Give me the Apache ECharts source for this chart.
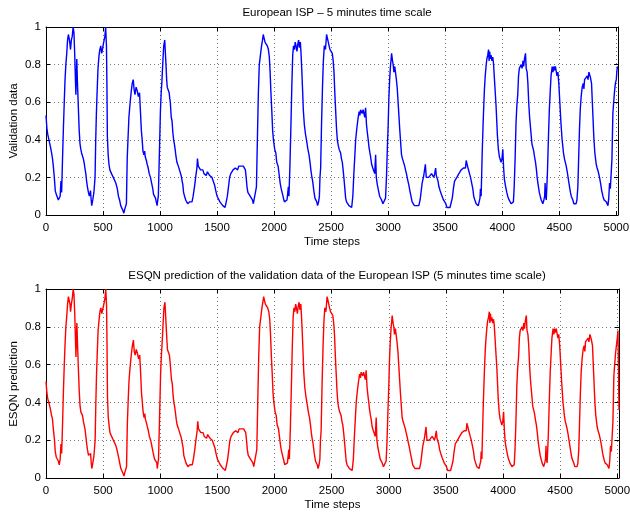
<!DOCTYPE html>
<html><head><meta charset="utf-8">
<script src="https://cdn.jsdelivr.net/npm/echarts@6/dist/echarts.min.js"></script>
<style>html,body{margin:0;padding:0;background:#fff}#c{width:630px;height:513px}</style>
</head><body><div id="c"></div>
<script>
const topTitle = "European ISP \u2013 5 minutes time scale";
const bottomTitle = "ESQN prediction of the validation data of the European ISP (5 minutes time scale)";
const topYName = "Validation data";
const bottomYName = "ESQN prediction";
const xTicks = [0,500,1000,1500,2000,2500,3000,3500,4000,4500,5000];
const yTicks = [0,0.2,0.4,0.6,0.8,1];
const xMax = 5015;

const validation = [[0,.53],[8,.46],[15,.43],[29,.39],[40,.36],[49,.33],[57,.30],[64,.26],[73,.20],[81,.13],[90,.11],[100,.10],[108,.08],[116,.07],[124,.10],[131,.18],[137,.12],[145,.30],[152,.45],[160,.60],[167,.72],[174,.80],[182,.86],[189,.93],[196,.96],[203,.94],[210,.91],[215,.88],[222,.93],[230,.95],[238,1.0],[245,.97],[252,.85],[258,.72],[262,.64],[270,.83],[276,.70],[282,.60],[291,.45],[298,.38],[305,.35],[312,.33],[320,.33],[327,.30],[334,.28],[341,.25],[349,.22],[356,.18],[363,.15],[372,.12],[380,.10],[390,.13],[396,.08],[401,.05],[410,.08],[420,.12],[430,.20],[436,.40],[441,.52],[445,.60],[451,.70],[456,.78],[465,.85],[472,.88],[480,.90],[488,.86],[495,.88],[503,.91],[510,.92],[516,.95],[523,1.0],[530,.90],[534,.70],[538,.42],[545,.32],[552,.27],[560,.24],[567,.25],[574,.22],[580,.21],[590,.20],[600,.19],[612,.17],[625,.14],[635,.10],[645,.08],[655,.05],[663,.04],[670,.03],[677,.02],[683,.01],[690,.03],[700,.02],[705,.06],[712,.30],[720,.42],[727,.52],[735,.58],[741,.62],[748,.66],[756,.70],[765,.72],[772,.67],[780,.64],[790,.68],[800,.66],[810,.63],[820,.65],[828,.55],[836,.45],[843,.40],[850,.34],[858,.32],[865,.34],[870,.31],[880,.29],[887,.27],[896,.25],[905,.22],[916,.20],[926,.17],[936,.14],[943,.11],[950,.10],[960,.09],[970,.08],[974,.05],[980,.08],[985,.10],[993,.30],[1003,.55],[1010,.65],[1017,.72],[1025,.82],[1032,.90],[1041,.93],[1048,.92],[1052,.80],[1058,.72],[1063,.68],[1070,.67],[1080,.65],[1085,.62],[1090,.60],[1098,.52],[1105,.50],[1112,.44],[1119,.40],[1125,.38],[1132,.35],[1140,.31],[1148,.28],[1160,.26],[1170,.24],[1177,.24],[1185,.21],[1192,.20],[1200,.16],[1206,.12],[1215,.10],[1225,.08],[1235,.09],[1242,.06],[1250,.05],[1260,.07],[1270,.08],[1280,.07],[1290,.10],[1302,.15],[1312,.20],[1323,.25],[1328,.30],[1335,.26],[1345,.25],[1355,.24],[1365,.23],[1375,.24],[1385,.22],[1395,.23],[1405,.21],[1415,.23],[1425,.22],[1435,.21],[1445,.22],[1455,.20],[1468,.20],[1478,.16],[1488,.13],[1500,.10],[1510,.09],[1525,.07],[1540,.06],[1550,.05],[1562,.04],[1570,.04],[1580,.07],[1590,.10],[1600,.15],[1610,.20],[1620,.22],[1630,.23],[1640,.24],[1650,.23],[1660,.25],[1670,.24],[1680,.24],[1690,.26],[1700,.25],[1710,.26],[1720,.27],[1730,.26],[1740,.27],[1748,.24],[1755,.20],[1762,.15],[1770,.12],[1780,.11],[1790,.10],[1800,.09],[1810,.08],[1818,.06],[1825,.05],[1835,.07],[1845,.15],[1850,.30],[1855,.45],[1862,.65],[1870,.80],[1880,.85],[1890,.90],[1898,.93],[1905,.96],[1912,.94],[1920,.92],[1930,.93],[1940,.90],[1950,.88],[1958,.84],[1965,.76],[1972,.65],[1980,.55],[1987,.45],[1994,.40],[2005,.35],[2015,.33],[2023,.28],[2035,.26],[2045,.21],[2053,.17],[2062,.14],[2070,.12],[2082,.09],[2090,.07],[2096,.06],[2105,.06],[2113,.08],[2120,.07],[2125,.15],[2130,.10],[2138,.25],[2148,.49],[2155,.68],[2163,.85],[2170,.90],[2178,.88],[2185,.92],[2192,.90],[2200,.87],[2208,.91],[2215,.93],[2222,.89],[2230,.92],[2236,.86],[2242,.78],[2250,.66],[2256,.56],[2265,.48],[2275,.43],[2286,.39],[2296,.35],[2306,.32],[2315,.28],[2322,.24],[2329,.21],[2338,.18],[2348,.13],[2358,.09],[2366,.08],[2374,.07],[2381,.05],[2390,.07],[2397,.10],[2402,.20],[2408,.25],[2416,.49],[2425,.70],[2432,.82],[2440,.90],[2450,.88],[2460,.96],[2467,.97],[2475,.92],[2482,.90],[2490,.88],[2500,.89],[2510,.86],[2518,.82],[2525,.76],[2532,.65],[2540,.55],[2547,.46],[2554,.40],[2562,.37],[2570,.35],[2583,.33],[2590,.30],[2598,.28],[2605,.24],[2613,.19],[2620,.14],[2627,.09],[2635,.07],[2645,.06],[2656,.05],[2665,.04],[2672,.05],[2680,.04],[2690,.10],[2700,.23],[2708,.32],[2715,.40],[2725,.46],[2735,.51],[2745,.55],[2752,.53],[2758,.56],[2765,.57],[2772,.54],[2780,.56],[2788,.55],[2795,.52],[2802,.57],[2810,.48],[2817,.44],[2825,.40],[2832,.36],[2840,.33],[2846,.31],[2855,.27],[2865,.25],[2875,.24],[2882,.22],[2890,.32],[2896,.20],[2905,.16],[2915,.13],[2925,.10],[2934,.09],[2942,.08],[2954,.06],[2965,.07],[2977,.09],[2985,.20],[2992,.34],[3000,.48],[3006,.62],[3013,.72],[3021,.80],[3026,.83],[3030,.86],[3038,.82],[3044,.80],[3050,.76],[3058,.79],[3065,.78],[3072,.72],[3080,.67],[3087,.60],[3094,.53],[3102,.45],[3110,.38],[3117,.32],[3125,.30],[3135,.28],[3145,.26],[3152,.24],[3160,.22],[3170,.19],[3181,.16],[3190,.13],[3200,.10],[3210,.07],[3220,.06],[3230,.05],[3240,.04],[3250,.05],[3260,.04],[3269,.05],[3280,.08],[3290,.13],[3298,.17],[3305,.19],[3312,.21],[3320,.22],[3326,.27],[3334,.20],[3345,.21],[3355,.20],[3364,.21],[3372,.19],[3380,.22],[3387,.21],[3393,.23],[3400,.20],[3408,.22],[3416,.25],[3422,.21],[3430,.20],[3437,.18],[3445,.15],[3455,.13],[3466,.11],[3475,.10],[3485,.08],[3494,.07],[3505,.06],[3515,.04],[3525,.04],[3532,.03],[3542,.04],[3552,.05],[3562,.09],[3572,.14],[3582,.18],[3592,.19],[3602,.20],[3611,.21],[3620,.22],[3630,.22],[3640,.24],[3650,.23],[3660,.25],[3670,.26],[3678,.25],[3684,.29],[3692,.27],[3700,.25],[3713,.22],[3722,.20],[3732,.17],[3742,.14],[3750,.10],[3760,.08],[3771,.06],[3780,.07],[3790,.05],[3801,.05],[3805,.09],[3809,.14],[3815,.10],[3824,.32],[3832,.48],[3838,.58],[3844,.67],[3851,.74],[3858,.79],[3865,.83],[3873,.85],[3880,.88],[3885,.82],[3890,.87],[3895,.83],[3902,.85],[3910,.82],[3917,.84],[3923,.81],[3930,.74],[3938,.66],[3946,.58],[3952,.50],[3958,.42],[3966,.35],[3975,.31],[3982,.30],[3990,.28],[3998,.30],[4005,.35],[4012,.25],[4019,.19],[4030,.15],[4040,.12],[4048,.10],[4060,.08],[4070,.07],[4078,.06],[4088,.07],[4098,.07],[4105,.15],[4113,.30],[4121,.49],[4128,.58],[4136,.64],[4143,.74],[4150,.78],[4158,.77],[4166,.80],[4174,.78],[4182,.82],[4188,.79],[4195,.83],[4204,.86],[4210,.78],[4218,.76],[4225,.70],[4232,.60],[4240,.52],[4250,.45],[4260,.38],[4268,.36],[4276,.34],[4283,.31],[4292,.28],[4300,.24],[4306,.20],[4315,.16],[4325,.12],[4333,.10],[4342,.08],[4350,.07],[4356,.06],[4365,.08],[4372,.10],[4376,.17],[4380,.10],[4386,.08],[4396,.22],[4406,.43],[4413,.56],[4421,.66],[4428,.74],[4438,.79],[4445,.76],[4452,.79],[4458,.77],[4466,.79],[4473,.78],[4480,.74],[4488,.76],[4496,.70],[4505,.60],[4512,.52],[4517,.47],[4525,.40],[4532,.36],[4537,.33],[4545,.30],[4553,.28],[4561,.26],[4570,.23],[4580,.19],[4590,.15],[4598,.12],[4605,.10],[4612,.09],[4619,.08],[4628,.06],[4635,.07],[4640,.05],[4648,.06],[4655,.08],[4663,.15],[4670,.30],[4677,.45],[4684,.56],[4692,.63],[4701,.68],[4710,.70],[4716,.67],[4722,.72],[4730,.71],[4738,.73],[4745,.74],[4752,.72],[4760,.76],[4766,.77],[4774,.73],[4783,.70],[4790,.60],[4797,.50],[4804,.40],[4812,.33],[4818,.30],[4824,.27],[4832,.25],[4842,.23],[4853,.20],[4862,.17],[4872,.13],[4883,.10],[4893,.08],[4903,.07],[4912,.07],[4920,.06],[4927,.05],[4934,.09],[4941,.17],[4948,.14],[4956,.15],[4962,.30],[4970,.54],[4977,.60],[4985,.66],[4992,.70],[5000,.72],[5006,.77],[5012,.79]];

const prediction = [[0,.51],[8,.45],[15,.42],[29,.39],[40,.36],[49,.33],[57,.31],[64,.26],[73,.21],[81,.14],[90,.11],[100,.10],[108,.09],[116,.07],[124,.10],[131,.18],[137,.13],[145,.29],[152,.45],[160,.60],[167,.71],[174,.80],[182,.86],[189,.92],[196,.96],[203,.94],[210,.92],[215,.88],[222,.92],[230,.95],[238,1.0],[245,.97],[252,.86],[258,.73],[262,.64],[270,.82],[276,.71],[282,.60],[291,.46],[298,.38],[305,.35],[312,.34],[320,.33],[327,.30],[334,.28],[341,.26],[349,.22],[356,.18],[363,.15],[372,.12],[380,.11],[390,.13],[396,.08],[401,.05],[410,.08],[420,.12],[430,.20],[436,.39],[441,.52],[445,.60],[451,.70],[456,.78],[465,.84],[472,.88],[480,.90],[488,.87],[495,.88],[503,.91],[510,.92],[516,.95],[523,1.0],[530,.91],[534,.71],[538,.43],[545,.32],[552,.28],[560,.24],[567,.25],[574,.22],[580,.21],[590,.20],[600,.19],[612,.17],[625,.14],[635,.11],[645,.08],[655,.05],[663,.04],[670,.03],[677,.02],[683,.01],[690,.03],[700,.02],[705,.06],[712,.29],[720,.42],[727,.52],[735,.58],[741,.62],[748,.66],[756,.70],[765,.73],[772,.67],[780,.65],[790,.68],[800,.66],[810,.63],[820,.65],[828,.56],[836,.45],[843,.40],[850,.35],[858,.32],[865,.34],[870,.31],[880,.29],[887,.27],[896,.25],[905,.22],[916,.20],[926,.17],[936,.14],[943,.12],[950,.10],[960,.09],[970,.08],[974,.05],[980,.08],[985,.10],[993,.30],[1003,.55],[1010,.65],[1017,.72],[1025,.82],[1032,.90],[1041,.93],[1048,.92],[1052,.80],[1058,.73],[1063,.68],[1070,.67],[1080,.65],[1085,.62],[1090,.61],[1098,.52],[1105,.50],[1112,.44],[1119,.40],[1125,.38],[1132,.35],[1140,.31],[1148,.28],[1160,.26],[1170,.24],[1177,.24],[1185,.21],[1192,.20],[1200,.16],[1206,.12],[1215,.10],[1225,.08],[1235,.09],[1242,.06],[1250,.05],[1260,.07],[1270,.08],[1280,.07],[1290,.10],[1302,.15],[1312,.20],[1323,.25],[1328,.30],[1335,.26],[1345,.25],[1355,.24],[1365,.23],[1375,.24],[1385,.22],[1395,.23],[1405,.21],[1415,.23],[1425,.22],[1435,.21],[1445,.22],[1455,.20],[1468,.20],[1478,.16],[1488,.13],[1500,.10],[1510,.09],[1525,.07],[1540,.06],[1550,.05],[1562,.04],[1570,.04],[1580,.07],[1590,.10],[1600,.15],[1610,.20],[1620,.22],[1630,.23],[1640,.24],[1650,.23],[1660,.25],[1670,.24],[1680,.24],[1690,.26],[1700,.25],[1710,.26],[1720,.27],[1730,.26],[1740,.27],[1748,.24],[1755,.20],[1762,.15],[1770,.12],[1780,.11],[1790,.10],[1800,.09],[1810,.08],[1818,.06],[1825,.05],[1835,.07],[1845,.15],[1850,.30],[1855,.45],[1862,.65],[1870,.80],[1880,.85],[1890,.90],[1898,.93],[1905,.96],[1912,.94],[1920,.92],[1930,.93],[1940,.90],[1950,.88],[1958,.84],[1965,.76],[1972,.65],[1980,.55],[1987,.45],[1994,.40],[2005,.35],[2015,.33],[2023,.28],[2035,.26],[2045,.21],[2053,.17],[2062,.14],[2070,.12],[2082,.09],[2090,.07],[2096,.06],[2105,.06],[2113,.08],[2120,.07],[2125,.15],[2130,.10],[2138,.25],[2148,.49],[2155,.68],[2163,.85],[2170,.90],[2178,.88],[2185,.92],[2192,.90],[2200,.87],[2208,.91],[2215,.93],[2222,.89],[2230,.92],[2236,.86],[2242,.78],[2250,.66],[2256,.56],[2265,.48],[2275,.43],[2286,.39],[2296,.35],[2306,.32],[2315,.28],[2322,.24],[2329,.21],[2338,.18],[2348,.13],[2358,.09],[2366,.08],[2374,.07],[2381,.05],[2390,.07],[2397,.10],[2402,.20],[2408,.25],[2416,.49],[2425,.70],[2432,.82],[2440,.90],[2450,.88],[2460,.96],[2467,.97],[2475,.92],[2482,.90],[2490,.88],[2500,.89],[2510,.86],[2518,.82],[2525,.76],[2532,.65],[2540,.55],[2547,.46],[2554,.40],[2562,.37],[2570,.35],[2583,.33],[2590,.30],[2598,.28],[2605,.24],[2613,.19],[2620,.14],[2627,.09],[2635,.07],[2645,.06],[2656,.05],[2665,.04],[2672,.05],[2680,.04],[2690,.10],[2700,.23],[2708,.32],[2715,.40],[2725,.46],[2735,.51],[2745,.55],[2752,.53],[2758,.56],[2765,.57],[2772,.54],[2780,.56],[2788,.55],[2795,.52],[2802,.57],[2810,.48],[2817,.44],[2825,.40],[2832,.36],[2840,.33],[2846,.31],[2855,.27],[2865,.25],[2875,.24],[2882,.22],[2890,.32],[2896,.20],[2905,.16],[2915,.13],[2925,.10],[2934,.09],[2942,.08],[2954,.06],[2965,.07],[2977,.09],[2985,.20],[2992,.34],[3000,.48],[3006,.62],[3013,.72],[3021,.80],[3026,.83],[3030,.86],[3038,.82],[3044,.80],[3050,.76],[3058,.79],[3065,.78],[3072,.72],[3080,.67],[3087,.60],[3094,.53],[3102,.45],[3110,.38],[3117,.32],[3125,.30],[3135,.28],[3145,.26],[3152,.24],[3160,.22],[3170,.19],[3181,.16],[3190,.13],[3200,.10],[3210,.07],[3220,.06],[3230,.05],[3240,.04],[3250,.05],[3260,.04],[3269,.05],[3280,.08],[3290,.13],[3298,.17],[3305,.19],[3312,.21],[3320,.22],[3326,.27],[3334,.20],[3345,.21],[3355,.20],[3364,.21],[3372,.19],[3380,.22],[3387,.21],[3393,.23],[3400,.20],[3408,.22],[3416,.25],[3422,.21],[3430,.20],[3437,.18],[3445,.15],[3455,.13],[3466,.11],[3475,.10],[3485,.08],[3494,.07],[3505,.06],[3515,.04],[3525,.04],[3532,.03],[3542,.04],[3552,.05],[3562,.09],[3572,.14],[3582,.18],[3592,.19],[3602,.20],[3611,.21],[3620,.22],[3630,.22],[3640,.24],[3650,.23],[3660,.25],[3670,.26],[3678,.25],[3684,.29],[3692,.27],[3700,.25],[3713,.22],[3722,.20],[3732,.17],[3742,.14],[3750,.10],[3760,.08],[3771,.06],[3780,.07],[3790,.05],[3801,.05],[3805,.09],[3809,.14],[3815,.10],[3824,.32],[3832,.48],[3838,.58],[3844,.67],[3851,.74],[3858,.79],[3865,.83],[3873,.85],[3880,.88],[3885,.82],[3890,.87],[3895,.83],[3902,.85],[3910,.82],[3917,.84],[3923,.81],[3930,.74],[3938,.66],[3946,.58],[3952,.50],[3958,.42],[3966,.35],[3975,.31],[3982,.30],[3990,.28],[3998,.30],[4005,.35],[4012,.25],[4019,.19],[4030,.15],[4040,.12],[4048,.10],[4060,.08],[4070,.07],[4078,.06],[4088,.07],[4098,.07],[4105,.15],[4113,.30],[4121,.49],[4128,.58],[4136,.64],[4143,.74],[4150,.78],[4158,.77],[4166,.80],[4174,.78],[4182,.82],[4188,.79],[4195,.83],[4204,.86],[4210,.78],[4218,.76],[4225,.70],[4232,.60],[4240,.52],[4250,.45],[4260,.38],[4268,.36],[4276,.34],[4283,.31],[4292,.28],[4300,.24],[4306,.20],[4315,.16],[4325,.12],[4333,.10],[4342,.08],[4350,.07],[4356,.06],[4365,.08],[4372,.10],[4376,.17],[4380,.10],[4386,.08],[4396,.22],[4406,.43],[4413,.56],[4421,.66],[4428,.74],[4438,.79],[4445,.76],[4452,.79],[4458,.77],[4466,.79],[4473,.78],[4480,.74],[4488,.76],[4496,.70],[4505,.60],[4512,.52],[4517,.47],[4525,.40],[4532,.36],[4537,.33],[4545,.30],[4553,.28],[4561,.26],[4570,.23],[4580,.19],[4590,.15],[4598,.12],[4605,.10],[4612,.09],[4619,.08],[4628,.06],[4635,.07],[4640,.05],[4648,.06],[4655,.08],[4663,.15],[4670,.30],[4677,.45],[4684,.56],[4692,.63],[4701,.68],[4710,.70],[4716,.67],[4722,.72],[4730,.71],[4738,.73],[4745,.74],[4752,.72],[4760,.76],[4766,.77],[4774,.73],[4783,.70],[4790,.60],[4797,.50],[4804,.40],[4812,.33],[4818,.30],[4824,.27],[4832,.25],[4842,.23],[4853,.20],[4862,.17],[4872,.13],[4883,.10],[4893,.08],[4903,.07],[4912,.07],[4920,.06],[4927,.05],[4934,.09],[4941,.17],[4948,.14],[4956,.15],[4962,.30],[4970,.54],[4977,.60],[4985,.66],[4992,.70],[5000,.74],[5006,.78],[5012,.79],[5015,.36]];

const FONT = "'Liberation Sans', Arial, Helvetica, sans-serif";
const chart = echarts.init(document.getElementById('c'), null, {renderer: 'canvas'});

const grids = [
  {left: 46, top: 27, width: 572, height: 188, containLabel: false, outerBoundsMode: 'none'},
  {left: 46, top: 289, width: 573, height: 189, containLabel: false, outerBoundsMode: 'none'}
];
function mainX(gi) {
  return {
    gridIndex: gi, type: 'value', min: xTicks[0], max: xMax, interval: xTicks[1]-xTicks[0], position: 'bottom',
    name: 'Time steps', nameLocation: 'middle', nameGap: 21,
    nameTextStyle: {fontFamily: FONT, fontSize: 11.5, color: '#000'},
    axisLine: {show: true, onZero: false, lineStyle: {color: '#000', width: 1}},
    axisTick: {show: true, inside: true, length: 4, lineStyle: {color: '#000'}},
    axisLabel: {show: true, margin: 7, fontFamily: FONT, fontSize: 11.5, color: '#000', showMaxLabel: false,
      formatter: v => String(Math.round(v))},
    splitLine: {show: true, lineStyle: {color: '#777', width: 1, type: [1, 3]}}
  };
}
function topX(gi) {
  return {
    gridIndex: gi, type: 'value', min: xTicks[0], max: xMax, interval: xTicks[1]-xTicks[0], position: 'top',
    axisLine: {show: true, onZero: false, lineStyle: {color: '#000', width: 1}},
    axisTick: {show: true, inside: true, length: 4, lineStyle: {color: '#000'}},
    axisLabel: {show: false}, splitLine: {show: false}
  };
}
function mainY(gi) {
  return {
    gridIndex: gi, type: 'value', min: yTicks[0], max: yTicks[yTicks.length-1], interval: yTicks[1]-yTicks[0], position: 'left',
    axisLine: {show: true, onZero: false, lineStyle: {color: '#000', width: 1}},
    axisTick: {show: true, inside: true, length: 4, lineStyle: {color: '#000'}},
    axisLabel: {show: true, margin: 5, fontFamily: FONT, fontSize: 11.5, color: '#000',
      formatter: v => String(Math.round(v*10)/10)},
    splitLine: {show: true, lineStyle: {color: '#777', width: 1, type: [1, 3]}}
  };
}
function rightY(gi) {
  return {
    gridIndex: gi, type: 'value', min: yTicks[0], max: yTicks[yTicks.length-1], interval: yTicks[1]-yTicks[0], position: 'right',
    axisLine: {show: true, onZero: false, lineStyle: {color: '#000', width: 1}},
    axisTick: {show: true, inside: true, length: 4, lineStyle: {color: '#000'}},
    axisLabel: {show: false}, splitLine: {show: false}
  };
}
function yName(text, cy) {
  return {type: 'text', x: 14, y: cy, rotation: Math.PI / 2,
    style: {text: text, fill: '#000', font: "11.5px " + FONT, textAlign: 'center', textVerticalAlign: 'middle'}};
}

chart.setOption({
  animation: false,
  backgroundColor: '#fff',
  title: [
    {text: topTitle, left: 332, top: 2, textAlign: 'center', textStyle: {fontFamily: FONT, fontSize: 11.5, fontWeight: 'normal', color: '#000'}},
    {text: bottomTitle, left: 332, top: 265, textAlign: 'center', textStyle: {fontFamily: FONT, fontSize: 11.5, fontWeight: 'normal', color: '#000'}}
  ],
  graphic: [yName(topYName, 121), yName(bottomYName, 384)],
  grid: grids,
  xAxis: [mainX(0), topX(0), mainX(1), topX(1)],
  yAxis: [mainY(0), rightY(0), mainY(1), rightY(1)],
  series: [
    {type: 'line', xAxisIndex: 0, yAxisIndex: 0, data: validation, showSymbol: false, symbol: 'none',
     lineStyle: {color: '#0000ff', width: 1.4}, z: 3},
    {type: 'line', xAxisIndex: 2, yAxisIndex: 2, data: prediction, showSymbol: false, symbol: 'none',
     lineStyle: {color: '#ff0000', width: 1.4}, z: 3}
  ]
});
</script></body></html>
